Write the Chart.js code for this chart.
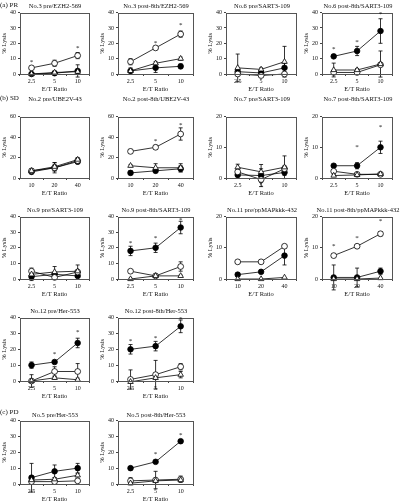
<!DOCTYPE html>
<html>
<head>
<meta charset="utf-8">
<script src="https://cdn.jsdelivr.net/npm/chart.js@4.4.0/dist/chart.umd.min.js"></script>
<style>
  body { margin: 0; width: 400px; height: 501px; background: #fff; position: relative; overflow: hidden;
         font-family: "Liberation Serif", "DejaVu Serif", serif; color: #111; }
  .panel { position: absolute; }
  .ttl { position: absolute; font-size: 6.5px; white-space: nowrap; transform: translate(-50%, -50%); will-change: transform; }
  .sec { position: absolute; left: 0; font-size: 7px; white-space: nowrap; transform: translateY(-50%); will-change: transform; }
</style>
</head>
<body>
<script>
// E/T ratios
const etLow = ['2.5', '5', '10'];
const etHigh = ['10', '20', '40'];

// each panel: [filled circle, open circle, open triangle], then errors, then asterisk heights
const no3Pre = [[0, 0.5, 2], [4, 7, 12], [0, 1, 1.5]];
const no3PreErr = [[1, 1, 4], [1, 2, 2], [0.5, 1, 1]];
const no3PreStars = [9, null, 18];

const no3Post = [[2, 4, 5], [8, 17, 26], [2, 7, 10]];
const no3PostErr = [[2, 3, 1.5], [2, 1, 2], [1, 1, 1]];
const no3PostStars = [null, 21, 33];

const no6Pre = [[1.5, 0.7, 4], [0, -1, 0], [4, 3, 8]];
const no6PreErr = [[1, 1, 3], [1, 1, 1], [9, 1, 10]];
const no6PreStars = [null, null, null];

const no6Post = [[11.5, 15, 28], [1, 1, 6], [2.6, 2.6, 6.5]];
const no6PostErr = [[1, 3, 8], [1, 1, 1], [4.5, 1, 8.5]];
const no6PostStars = [17, 22, 40];

const no2Pre = [[6, 10, 16], [7, 10, 17], [7, 11, 18]];
const no2PreErr = [[2, 3, 2], [2, 5, 2], [1, 4, 2]];
const no2PreStars = [null, null, null];

const no2Post = [[5, 7, 9], [26, 30, 43], [12, 10, 10]];
const no2PostErr = [[2, 2, 3], [2, 2, 6], [1, 4, 4]];
const no2PostStars = [null, 37, 53.5];

const no7Pre = [[1, 0.8, 1.8], [2, -0.5, 3], [3.5, 2, 3.5]];
const no7PreErr = [[1, 3.6, 1], [1, 1, 1], [1, 1, 3.7]];
const no7PreStars = [null, null, null];

const no7Post = [[4, 4, 10], [2.2, 1.2, 1.2], [0.8, 1, 1.3]];
const no7PostErr = [[0.5, 1, 2], [0.5, 0.5, 0.5], [0.3, 0.3, 0.3]];
const no7PostStars = [null, 10.5, 17];

const no9Pre = [[1.5, 3, 2], [5, 1, 4.5], [3, 4.5, 5]];
const no9PreErr = [[1, 1, 1], [1, 1, 1], [4, 3.5, 4]];
const no9PreStars = [null, null, null];

const no9Post = [[18, 20, 33], [5, 2, 8], [0, 2, 2]];
const no9PostErr = [[3, 3, 4], [1, 0.5, 3], [0.5, 0.5, 0.5]];
const no9PostStars = [24, 27, 39];

const no11Pre = [[1.4, 2.3, 7.5], [5.5, 5.5, 10.5], [0, 0, 0.5]];
const no11PreErr = [[0.5, 0.5, 3], [0.3, 0.3, 0.5], [0, 0, 0]];
const no11PreStars = [null, null, null];

const no11Post = [[0.5, 0.5, 2.5], [7.5, 10.5, 14.5], [0, 0, 0.3]];
const no11PostErr = [[4, 3, 1], [0.5, 0.5, 0.7], [0, 0, 0]];
const no11PostStars = [11, 13.5, 19];

const no12Pre = [[10, 12, 24], [0, 6, 6], [0, 2, 0.8]];
const no12PreErr = [[2, 1, 3], [4, 3, 5], [1, 1, 1]];
const no12PreStars = [null, 18, 32];

const no12Post = [[20, 22, 34.5], [1, 4, 9], [-0.5, 2, 4]];
const no12PostErr = [[3, 3, 4], [6, 9, 2], [1, 1, 2]];
const no12PostStars = [26, 28, 40];

const no5Pre = [[4, 8, 10], [1.5, 1.5, 2], [2.5, 3, 5.5]];
const no5PreErr = [[9, 4, 3], [1, 1, 1], [1, 1, 1]];
const no5PreStars = [null, null, null];

const no5Post = [[10, 14, 27], [2, 2.5, 3], [0.5, 2, 2.5]];
const no5PostErr = [[1, 1, 1], [2, 5.5, 2], [1, 1, 1]];
const no5PostStars = [null, 20, 32];

// plot-area layout (pixels)
const cols = [[20, 90], [118, 194], [226, 297], [322, 393]];
const rows = [[12, 74, 5], [116, 178, 98], [216, 279, 209], [317, 381, 310], [420, 484, 414]];

const panels = [
  { title: 'No.3 pre/EZH2-569', cats: etLow, vals: no3Pre, errs: no3PreErr, stars: no3PreStars, max: 40, step: 10, col: 0, row: 0 },
  { title: 'No.3 post-8th/EZH2-569', cats: etLow, vals: no3Post, errs: no3PostErr, stars: no3PostStars, max: 40, step: 10, col: 1, row: 0 },
  { title: 'No.6 pre/SART3-109', cats: etLow, vals: no6Pre, errs: no6PreErr, stars: no6PreStars, max: 40, step: 10, col: 2, row: 0 },
  { title: 'No.6 post-8th/SART3-109', cats: etLow, vals: no6Post, errs: no6PostErr, stars: no6PostStars, max: 40, step: 10, col: 3, row: 0 },
  { title: 'No.2 pre/UBE2V-43', cats: etHigh, vals: no2Pre, errs: no2PreErr, stars: no2PreStars, max: 60, step: 20, col: 0, row: 1 },
  { title: 'No.2 post-8th/UBE2V-43', cats: etHigh, vals: no2Post, errs: no2PostErr, stars: no2PostStars, max: 60, step: 20, col: 1, row: 1 },
  { title: 'No.7 pre/SART3-109', cats: etLow, vals: no7Pre, errs: no7PreErr, stars: no7PreStars, max: 20, step: 10, col: 2, row: 1 },
  { title: 'No.7 post-8th/SART3-109', cats: etLow, vals: no7Post, errs: no7PostErr, stars: no7PostStars, max: 20, step: 10, col: 3, row: 1 },
  { title: 'No.9 pre/SART3-109', cats: etLow, vals: no9Pre, errs: no9PreErr, stars: no9PreStars, max: 40, step: 10, col: 0, row: 2 },
  { title: 'No.9 post-8th/SART3-109', cats: etLow, vals: no9Post, errs: no9PostErr, stars: no9PostStars, max: 40, step: 10, col: 1, row: 2 },
  { title: 'No.11 pre/ppMAPkkk-432', cats: etHigh, vals: no11Pre, errs: no11PreErr, stars: no11PreStars, max: 20, step: 10, col: 2, row: 2 },
  { title: 'No.11 post-8th/ppMAPkkk-432', cats: etHigh, vals: no11Post, errs: no11PostErr, stars: no11PostStars, max: 20, step: 10, col: 3, row: 2 },
  { title: 'No.12 pre/Her-553', cats: etLow, vals: no12Pre, errs: no12PreErr, stars: no12PreStars, max: 40, step: 10, col: 0, row: 3 },
  { title: 'No.12 post-8th/Her-553', cats: etLow, vals: no12Post, errs: no12PostErr, stars: no12PostStars, max: 40, step: 10, col: 1, row: 3 },
  { title: 'No.5 pre/Her-553', cats: etLow, vals: no5Pre, errs: no5PreErr, stars: no5PreStars, max: 40, step: 10, col: 0, row: 4 },
  { title: 'No.5 post-8th/Her-553', cats: etLow, vals: no5Post, errs: no5PostErr, stars: no5PostStars, max: 40, step: 10, col: 1, row: 4 }
];

const sections = [['(a) PR', 5], ['(b) SD', 98], ['(c) PD', 412]];

Chart.defaults.font.family = '"Liberation Serif", "DejaVu Serif", serif';
Chart.defaults.color = '#111';

// error bars under the markers, frame + asterisks on top
const extras = {
  id: 'extras',
  beforeDatasetsDraw(chart) {
    const { ctx, scales } = chart;
    ctx.save();
    ctx.strokeStyle = '#000';
    ctx.lineWidth = 0.8;
    chart.data.datasets.forEach((ds, di) => {
      const meta = chart.getDatasetMeta(di);
      ds.errs.forEach((e, i) => {
        if (!e) return;
        const x = meta.data[i].x;
        const y1 = scales.y.getPixelForValue(ds.data[i] + e);
        const y2 = scales.y.getPixelForValue(ds.data[i] - e);
        ctx.beginPath();
        ctx.moveTo(x, y1); ctx.lineTo(x, y2);
        ctx.moveTo(x - 2, y1); ctx.lineTo(x + 2, y1);
        ctx.moveTo(x - 2, y2); ctx.lineTo(x + 2, y2);
        ctx.stroke();
      });
    });
    ctx.restore();
  },
  afterDraw(chart) {
    const { ctx, chartArea: a, scales } = chart;
    ctx.save();
    ctx.strokeStyle = '#555';
    ctx.lineWidth = 1;
    ctx.strokeRect(Math.round(a.left) + 0.5, Math.round(a.top) + 0.5,
      Math.round(a.right - a.left), Math.round(a.bottom - a.top));
    ctx.fillStyle = '#111';
    ctx.font = '7px "Liberation Serif", serif';
    ctx.textAlign = 'center';
    ctx.textBaseline = 'middle';
    chart.options.plugins.extras.stars.forEach((s, i) => {
      if (s == null) return;
      ctx.fillText('*', scales.x.getPixelForValue(i), scales.y.getPixelForValue(s) + 1.5);
    });
    ctx.restore();
  }
};

const marks = [
  { label: 'filled', style: 'circle', fill: '#000', r: 2.8 },
  { label: 'open', style: 'circle', fill: '#fff', r: 2.9 },
  { label: 'triangle', style: 'triangle', fill: '#fff', r: 3.2 }
];

sections.forEach(([text, y]) => {
  const d = document.createElement('div');
  d.className = 'sec';
  d.style.top = y + 'px';
  d.textContent = text;
  document.body.appendChild(d);
});

panels.forEach(p => {
  const [l, r] = cols[p.col];
  const [t, b, ty] = rows[p.row];

  const ttl = document.createElement('div');
  ttl.className = 'ttl';
  ttl.style.left = ((l + r) / 2) + 'px';
  ttl.style.top = ty + 'px';
  ttl.textContent = p.title;
  document.body.appendChild(ttl);

  const w = (r - l) + 24, h = (b - t) + 24;
  const wrap = document.createElement('div');
  wrap.className = 'panel';
  wrap.style.left = (l - 20) + 'px';
  wrap.style.top = (t - 5) + 'px';
  const cv = document.createElement('canvas');
  cv.width = w; cv.height = h;
  cv.style.width = w + 'px'; cv.style.height = h + 'px';
  wrap.appendChild(cv);
  document.body.appendChild(wrap);

  new Chart(cv, {
    type: 'line',
    data: {
      labels: p.cats,
      datasets: marks.map((m, k) => ({
        label: m.label,
        data: p.vals[k],
        errs: p.errs[k],
        borderColor: '#000',
        borderWidth: 0.8,
        pointStyle: m.style,
        pointRadius: m.r,
        pointBackgroundColor: m.fill,
        pointBorderColor: '#000',
        pointBorderWidth: 0.8,
        tension: 0,
        clip: false
      })).reverse()
    },
    options: {
      responsive: false,
      animation: false,
      devicePixelRatio: 1,
      layout: { padding: { top: 5, right: 4, left: 0, bottom: 0 } },
      plugins: {
        legend: { display: false },
        tooltip: { enabled: false },
        extras: { stars: p.stars }
      },
      scales: {
        x: {
          type: 'category',
          offset: true,
          grid: { display: true, offset: true, drawOnChartArea: false, drawTicks: true, tickLength: 2, color: '#444' },
          border: { display: false },
          ticks: { font: { size: 6 }, padding: 2, maxRotation: 0 },
          title: { display: true, text: 'E/T Ratio', font: { size: 6.5 }, padding: 0 },
          afterFit: axis => { axis.height = 19; }
        },
        y: {
          min: 0,
          max: p.max,
          grid: { display: true, drawOnChartArea: false, drawTicks: true, tickLength: 2, color: '#444' },
          border: { display: false },
          ticks: { stepSize: p.step, font: { size: 6 }, padding: 2 },
          title: { display: true, text: '% Lysis', font: { size: 6.5 }, padding: 0 },
          afterFit: axis => { axis.width = 20; }
        }
      }
    },
    plugins: [extras]
  });
});
</script>
</body>
</html>
